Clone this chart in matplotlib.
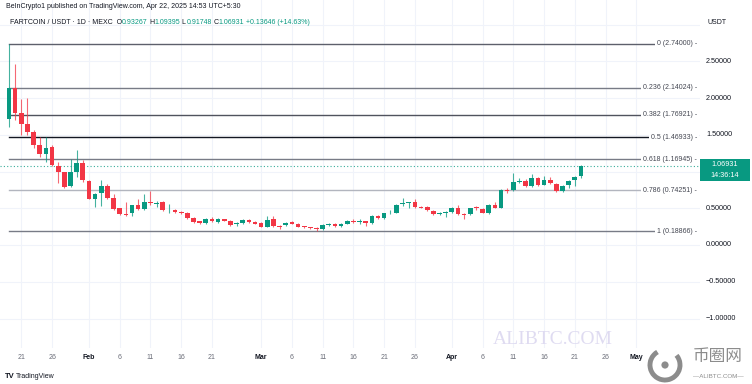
import matplotlib.pyplot as plt
from matplotlib.patches import Rectangle, Arc, Circle
import numpy as np

# daily candles, FARTCOIN/USDT, Jan 19 .. Apr 22 2025
opens = [1.72, 2.14, 1.79, 1.65, 1.54, 1.36, 1.24, 1.33, 1.08, 1.00,
         0.80, 1.00, 1.12, 0.87, 0.63, 0.71, 0.80, 0.64, 0.50, 0.42,
         0.44, 0.55, 0.49, 0.58, 0.56, 0.58, 0.47, 0.48, 0.45, 0.44,
         0.37, 0.32, 0.30, 0.35, 0.31, 0.35, 0.33, 0.29, 0.30, 0.34,
         0.31, 0.30, 0.25, 0.35, 0.26, 0.27, 0.31, 0.29, 0.25, 0.24,
         0.23, 0.22, 0.27, 0.29, 0.26, 0.29, 0.33, 0.31, 0.32, 0.30,
         0.40, 0.37, 0.43, 0.44, 0.56, 0.57, 0.58, 0.52, 0.52, 0.46,
         0.42, 0.44, 0.45, 0.51, 0.42, 0.42, 0.51, 0.49, 0.44, 0.54,
         0.51, 0.75, 0.75, 0.86, 0.87, 0.80, 0.91, 0.82, 0.88, 0.83,
         0.73, 0.81, 0.88, 0.93267]
highs = [2.74, 2.46, 1.98, 2.00, 1.56, 1.47, 1.47, 1.36, 1.13, 1.00,
         1.17, 1.29, 1.15, 0.88, 0.71, 0.89, 0.83, 0.69, 0.51, 0.59,
         0.55, 0.62, 0.69, 0.73, 0.60, 0.60, 0.56, 0.49, 0.46, 0.45,
         0.38, 0.33, 0.37, 0.38, 0.37, 0.36, 0.34, 0.31, 0.35, 0.35,
         0.33, 0.31, 0.39, 0.40, 0.27, 0.31, 0.33, 0.30, 0.26, 0.25,
         0.24, 0.28, 0.30, 0.30, 0.30, 0.34, 0.36, 0.35, 0.33, 0.41,
         0.41, 0.44, 0.48, 0.56, 0.64, 0.59, 0.62, 0.53, 0.53, 0.47,
         0.45, 0.46, 0.52, 0.55, 0.43, 0.51, 0.53, 0.50, 0.56, 0.58,
         0.76, 0.77, 0.98, 0.91, 0.90, 0.97, 0.93, 0.94, 0.92, 0.84,
         0.81, 0.88, 0.94, 1.09395]
lows = [1.60, 1.70, 1.50, 1.50, 1.32, 1.20, 1.13, 1.08, 0.84, 0.78,
        0.79, 0.93, 0.86, 0.62, 0.52, 0.53, 0.63, 0.47, 0.41, 0.40,
        0.40, 0.47, 0.47, 0.55, 0.52, 0.46, 0.44, 0.44, 0.42, 0.36,
        0.30, 0.29, 0.29, 0.31, 0.30, 0.32, 0.26, 0.26, 0.29, 0.30,
        0.28, 0.24, 0.24, 0.25, 0.22, 0.26, 0.28, 0.24, 0.23, 0.22,
        0.19, 0.21, 0.26, 0.25, 0.25, 0.28, 0.30, 0.29, 0.26, 0.29,
        0.36, 0.36, 0.42, 0.43, 0.53, 0.51, 0.51, 0.50, 0.46, 0.41,
        0.41, 0.38, 0.44, 0.41, 0.36, 0.41, 0.48, 0.43, 0.42, 0.50,
        0.50, 0.71, 0.74, 0.84, 0.79, 0.79, 0.80, 0.81, 0.83, 0.72,
        0.72, 0.77, 0.80, 0.91748]
closes = [2.14, 1.79, 1.65, 1.54, 1.36, 1.24, 1.32, 1.09, 1.00, 0.79,
          1.00, 1.12, 0.88, 0.63, 0.70, 0.80, 0.64, 0.49, 0.42, 0.41,
          0.54, 0.49, 0.58, 0.57, 0.57, 0.47, 0.48, 0.45, 0.43, 0.37,
          0.31, 0.30, 0.35, 0.32, 0.36, 0.33, 0.27, 0.30, 0.34, 0.31,
          0.29, 0.25, 0.34, 0.26, 0.25, 0.30, 0.29, 0.25, 0.24, 0.23,
          0.22, 0.27, 0.29, 0.26, 0.29, 0.33, 0.31, 0.32, 0.30, 0.40,
          0.37, 0.43, 0.44, 0.55, 0.57, 0.57, 0.52, 0.51, 0.47, 0.42,
          0.44, 0.45, 0.51, 0.42, 0.41, 0.50, 0.50, 0.44, 0.54, 0.51,
          0.75, 0.74, 0.86, 0.87, 0.80, 0.91, 0.81, 0.88, 0.84, 0.73,
          0.80, 0.87, 0.93, 1.06931]

fib_ratios = ['0', '0.236', '0.382', '0.5', '0.618', '0.786', '1']
fib_prices = [2.74000, 2.14024, 1.76921, 1.46933, 1.16945, 0.74251, 0.18866]
fib_colors = ['#5d606b', '#787b86', '#50535e', '#131722', '#787b86', '#b2b5be', '#787b86']

# day offsets from Jan 19 and their labels
date_pos = [2, 7, 13, 18, 23, 28, 33, 41, 46, 51, 56, 61, 66, 72, 77, 82, 87, 92, 97, 102]
date_labels = ['21', '26', 'Feb', '6', '11', '16', '21', 'Mar', '6', '11', '16', '21', '26',
               'Apr', '6', '11', '16', '21', '26', 'May']
price_ticks = [2.5, 2.0, 1.5, 0.5, 0.0, -0.5, -1.0]
price_labels = ['2.50000', '2.00000', '1.50000', '0.50000', '0.00000', '\u22120.50000', '\u22121.00000']

last_price = 1.06931
header_vals = ['0.93267', '1.09395', '0.91748', '1.06931']
change_txt = '+0.13646 (+14.63%)'

UP, DOWN = '#089981', '#f23645'
INK = '#131722'
plt.rcParams['font.family'] = ['Liberation Sans', 'Noto Sans CJK SC', 'DejaVu Sans']

W, H = 752, 384
fig = plt.figure(figsize=(W / 100, H / 100), dpi=100)
ax = fig.add_axes([0, 1 - 348 / H, 700 / W, 348 / H])
ax.set_xlim(-9 / 6.15, 691 / 6.15)
ax.set_ylim(-103 / 73.5, 245 / 73.5)
for s in ax.spines.values():
    s.set_visible(False)
ax.set_xticks([])
ax.set_yticks([])

# grid
for x in date_pos:
    ax.axvline(x, color='#f0f3fa', lw=0.8, zorder=0)
for y in price_ticks + [1.0, 3.0]:
    ax.axhline(y, color='#f0f3fa', lw=0.8, zorder=0)

# fib levels
for r, p, c in zip(fib_ratios, fib_prices, fib_colors):
    ax.plot([0, 111.0], [p, p], color=c, lw=1.0, zorder=1)
    ax.text(697 / 700, p, f'{r} ({p:.5f}) -', transform=ax.get_yaxis_transform(),
            ha='right', va='center', fontsize=5, color='#434651', zorder=3,
            bbox=dict(boxstyle='square,pad=0.3', fc='white', ec='none'))

# candles
o = np.array(opens); h = np.array(highs); l = np.array(lows); c = np.array(closes)
x = np.arange(len(o))
cols = [UP if ci >= oi else DOWN for oi, ci in zip(o, c)]
ax.vlines(x, l, h, colors=cols, lw=0.8, alpha=0.75, zorder=4)
body = np.maximum(np.abs(c - o), 0.012)
ax.bar(x, body, bottom=np.minimum(o, c), width=0.75, color=cols, zorder=5)

# last price line
ax.axhline(last_price, color=UP, lw=0.8, ls=(0, (1, 2)), alpha=0.8, zorder=2)

# price scale labels
for y, t in zip(price_ticks, price_labels):
    ax.text(706 / 700, y, t, transform=ax.get_yaxis_transform(), ha='left', va='center',
            fontsize=5.2, color=INK, clip_on=False)
# date labels
for xp, t in zip(date_pos, date_labels):
    bold = not t.isdigit()
    ax.text(xp, -0.026, t, transform=ax.get_xaxis_transform(), ha='center', va='center',
            fontsize=5, color=INK if bold else '#6a6d78',
            fontweight='bold' if bold else 'normal', clip_on=False)

# last price box
fig.patches.append(Rectangle((700 / W, 1 - 181 / H), 50 / W, 22 / H, transform=fig.transFigure,
                             fc=UP, ec='none'))
fig.text(725 / W, 1 - 165 / H, f'{last_price:.5f}', ha='center', va='center', fontsize=5.2,
         color='white')
fig.text(725 / W, 1 - 175 / H, '14:36:14', ha='center', va='center', fontsize=5.2, color='white')

# header
fig.text(6 / W, 1 - 7 / H, 'BeInCrypto1 published on TradingView.com, Apr 22, 2025 14:53 UTC+5:30',
         ha='left', va='center', fontsize=5, color=INK)
anchor = fig.text(10 / W, 1 - 22 / H, 'FARTCOIN / USDT \u00b7 1D \u00b7 MEXC  O', ha='left',
                  va='center', fontsize=5, color=INK)
pieces = [(header_vals[0], UP), (' H', INK), (header_vals[1], UP), (' L', INK),
          (header_vals[2], UP), (' C', INK), (header_vals[3], UP), (' ' + change_txt, UP)]
for s, col in pieces:
    anchor = ax.annotate(s, xy=(1, 0), xycoords=anchor, ha='left', va='bottom',
                         fontsize=5, color=col, annotation_clip=False)
fig.text(708 / W, 1 - 22 / H, 'USDT', ha='left', va='center', fontsize=5, color=INK)

# footer
fig.text(5 / W, 1 - 377 / H, 'TV', ha='left', va='center', fontsize=5.5, fontweight='bold',
         color=INK)
fig.text(16 / W, 1 - 377 / H, 'TradingView', ha='left', va='center', fontsize=5, color=INK)

# watermarks
fig.text(553 / W, 1 - 339 / H, 'ALIBTC.COM', ha='center', va='center', fontsize=14,
         family='Liberation Serif', color='#dcd8f0', alpha=0.9)
fig.text(718 / W, 1 - 356 / H, '币圈网', ha='center', va='center', fontsize=12,
         family=['Noto Sans CJK SC'], color='#8c8c8c')
fig.text(718 / W, 1 - 376 / H, '\u2014ALIBTC.COM\u2014', ha='center', va='center', fontsize=4.5,
         color='#8c8c8c')
lax = fig.add_axes([645 / W, 1 - 384 / H, 40 / W, 40 / H])
lax.set_xlim(-1, 1); lax.set_ylim(-1, 1); lax.set_aspect('equal'); lax.axis('off')
lax.add_patch(Arc((0, -0.05), 1.5, 1.5, theta1=120, theta2=400, lw=3.5, color='#8c8c8c'))
lax.add_patch(Circle((0, -0.05), 0.18, fc='#8c8c8c'))

fig.savefig('out.png', dpi=100)
